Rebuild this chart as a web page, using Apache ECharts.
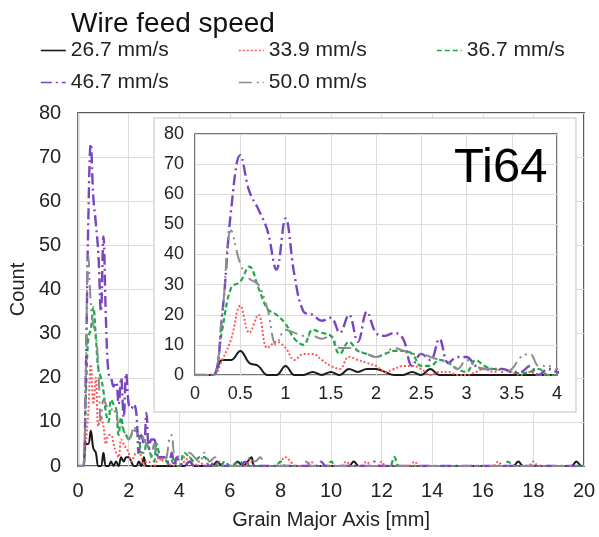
<!DOCTYPE html>
<html>
<head>
<meta charset="utf-8">
<title>Wire feed speed - Ti64</title>
<script src="https://cdn.jsdelivr.net/npm/echarts@6/dist/echarts.min.js"></script>
<style>
	html, body { margin: 0; padding: 0; background: #fff; }
	#chart { width: 599px; height: 537px; }
</style>
</head>
<body>
<div id="chart"></div>
<script>
// grain major axis bins [mm], 0 - 4
var bins = [0.0, 0.1, 0.2, 0.3, 0.4, 0.5, 0.6, 0.7, 0.8, 0.9,
	1.0, 1.1, 1.2, 1.3, 1.4, 1.5, 1.6, 1.7, 1.8, 1.9,
	2.0, 2.1, 2.2, 2.3, 2.4, 2.5, 2.6, 2.7, 2.8, 2.9,
	3.0, 3.1, 3.2, 3.3, 3.4, 3.5, 3.6, 3.7, 3.8, 3.9, 4.0];

var names = ['26.7 mm/s', '33.9 mm/s', '36.7 mm/s', '46.7 mm/s', '50.0 mm/s'];

// counts for each wire feed speed over bins
var count267 = [0, 0, 0, 5, 5, 8, 4, 3, 0, 0,
	3, 0, 0, 1, 0, 1, 0, 2, 1, 2,
	2, 1, 0, 0, 1, 0, 2, 0, 0, 0,
	0, 0, 0, 0, 0, 0, 0, 0, 0, 0, 0];
var count339 = [0, 0, 0, 5, 12, 23, 14, 20, 9, 11,
	9, 5, 7, 7, 5, 3, 2, 6, 5, 4,
	3, 1, 2, 3, 3, 2, 0, 1, 1, 0,
	0, 1, 2, 1, 2, 1, 0, 1, 0, 0, 0];
var count367 = [0, 0, 0, 15, 29, 31, 36, 29, 22, 20,
	17, 12, 10, 15, 14, 13, 7, 11, 8, 7,
	6, 7, 8, 8, 7, 3, 3, 5, 4, 2,
	1, 5, 3, 2, 2, 1, 0.5, 1, 2, 0, 0];
var count467 = [0, 0, 0, 20, 55, 73, 61, 55, 48, 35,
	52, 33, 21, 20, 18, 19, 14, 20, 11, 21,
	14, 13, 14, 12, 3, 7, 5, 12, 4, 6,
	6, 3, 2, 2, 2, 1, 1, 3, 0, 2, 1];
var count500 = [0, 0, 0, 20, 48, 37, 32, 30, 22, 10,
	15, 14, 13, 13, 12, 13, 9, 9, 8, 7,
	6, 7, 9, 8, 7, 7, 6, 5, 4, 2,
	5, 3, 2, 2, 1, 2, 6, 7, 3, 3, 2];

// sparse tails beyond 4 mm, [x, count]
var tail267 = [[4.2, 0], [4.4, 1], [4.6, 0], [5.3, 0], [5.5, 1], [5.7, 0], [6.1, 0], [6.3, 1], [6.5, 0],
	[6.7, 1], [6.85, 2], [7.0, 0], [10.7, 0], [10.9, 1], [11.1, 0], [17.2, 0], [17.4, 1], [17.6, 0],
	[19.5, 0], [19.7, 1], [19.9, 0], [20, 0]];
var tail339 = [[4.2, 1], [4.4, 2], [4.6, 0], [4.8, 1], [5.0, 0], [5.4, 0], [5.6, 1], [5.8, 0], [6.6, 0],
	[6.8, 1], [7.0, 0], [7.8, 0], [8.0, 1], [8.2, 2], [8.4, 1], [8.6, 0], [9.0, 0], [9.2, 1], [9.4, 0],
	[10.4, 0], [10.6, 1], [10.8, 0], [11.2, 0], [11.4, 1], [11.6, 0], [11.85, 0], [12.0, 1], [12.15, 0],
	[13.1, 0], [13.3, 1], [13.5, 0], [16.4, 0], [16.6, 1], [16.8, 0], [17.8, 0], [18.0, 1], [18.2, 0], [20, 0]];
var tail367 = [[4.2, 3], [4.4, 2], [4.6, 1], [4.8, 2], [5.0, 2], [5.2, 0], [5.6, 0], [5.8, 1], [6.0, 0],
	[6.4, 1], [6.6, 0], [7.8, 0], [8.0, 1], [8.2, 0], [9.8, 0], [10.0, 1], [10.2, 0], [12.3, 0],
	[12.5, 2], [12.7, 0], [16.8, 0], [17.0, 1], [17.2, 0], [20, 0]];
var tail467 = [[4.2, 0], [4.4, 1], [4.6, 0], [5.2, 0], [5.4, 1], [5.6, 0], [6.4, 0], [6.6, 1], [6.8, 0],
	[9.4, 0], [9.6, 1], [9.8, 0], [11.5, 0], [11.7, 1], [11.9, 0], [20, 0]];
var tail500 = [[4.2, 2], [4.4, 3], [4.6, 2], [4.8, 1], [5.0, 3], [5.2, 1], [5.4, 2], [5.6, 0], [6.6, 0],
	[6.8, 2], [7.0, 1], [7.2, 2], [7.4, 0], [8.8, 0], [9.0, 1], [9.2, 0], [20, 0]];

var xTicks = [0, 2, 4, 6, 8, 10, 12, 14, 16, 18, 20];
var insetTicks = [0, 0.5, 1, 1.5, 2, 2.5, 3, 3.5, 4];

var colors = ['#1a1a1a', '#ff5a5a', '#1fa84a', '#7a45c0', '#8c8c8c'];
var dashes = ['solid', [2, 2], [5, 3], [11, 4, 2, 4], [13, 5, 2, 4, 2, 5]];
var widths = [2, 2, 2.2, 2.4, 2];

var counts = [count267, count339, count367, count467, count500];
var tails = [tail267, tail339, tail367, tail467, tail500];

function buildData(ys, tail) {
	var out = [];
	for (var i = 0; i < bins.length; i++) {
		out.push([bins[i], ys[i]]);
	}
	return out.concat(tail);
}

var series = [];
names.forEach(function(name, i) {
	var data = buildData(counts[i], tails[i]);
	var style = { color: colors[i], width: widths[i], type: dashes[i] };
	series.push({
		name: name, type: 'line', xAxisIndex: 0, yAxisIndex: 0,
		data: data, smooth: 0.4, symbol: 'none', clip: true, z: 2,
		itemStyle: { color: colors[i] }, lineStyle: style
	});
	series.push({
		name: name, type: 'line', xAxisIndex: 1, yAxisIndex: 1,
		data: data, smooth: 0.4, symbol: 'none', clip: true, z: 12,
		itemStyle: { color: colors[i] }, lineStyle: style
	});
});

var font = 'Liberation Sans, Arial';

var legendPos = [[40, 40], [238, 40], [436, 40], [40, 72], [238, 72]];
var legends = names.map(function(name, i) {
	return {
		data: [name], left: legendPos[i][0], top: legendPos[i][1],
		padding: 0, itemWidth: 25, itemHeight: 20, itemGap: 0, selectedMode: false,
		itemStyle: { opacity: 0 },
		lineStyle: { width: 1.6 },
		textStyle: { fontSize: 21, color: '#222', fontFamily: font }
	};
});

var gridLine = { show: true, lineStyle: { color: '#dcdcdc', width: 1 } };

var option = {
	backgroundColor: '#fff',
	animation: false,
	textStyle: { fontFamily: font },
	title: [
		{ text: 'Wire feed speed', left: 66, top: 5,
			textStyle: { fontSize: 28, fontWeight: 'normal', color: '#111', fontFamily: font } },
		{ text: 'Ti64', left: 449, top: 139, z: 20,
			textStyle: { fontSize: 49, fontWeight: 'normal', color: '#000', fontFamily: font } }
	],
	legend: legends,
	graphic: [{
		type: 'rect', z: 5,
		shape: { x: 154, y: 118, width: 422, height: 294 },
		style: { fill: '#fff', stroke: '#d6d6d6', lineWidth: 1.5 }
	}],
	grid: [
		{ left: 76, right: 15, top: 113, bottom: 71, show: true,
			borderColor: '#5a5a5a', borderWidth: 2, z: 1 },
		{ left: 195, right: 42, top: 134, bottom: 162, show: true,
			borderColor: '#4a4a4a', borderWidth: 1.5, backgroundColor: 'transparent', z: 10 }
	],
	xAxis: [
		{ type: 'value', gridIndex: 0, min: 0, max: 20, interval: 2, z: 1,
			name: 'Grain Major Axis [mm]', nameLocation: 'middle', nameGap: 44,
			nameTextStyle: { fontSize: 20, color: '#222' },
			axisLine: { show: false }, axisTick: { show: false },
			axisLabel: { fontSize: 20, color: '#222', margin: 15,
				formatter: function(v) { return xTicks.indexOf(v) > -1 ? v : ''; } },
			splitLine: gridLine },
		{ type: 'value', gridIndex: 1, min: 0, max: 4, interval: 0.5, z: 11,
			axisLine: { show: false }, axisTick: { show: false },
			axisLabel: { fontSize: 18, color: '#222', margin: 10,
				formatter: function(v) { return insetTicks.indexOf(v) > -1 ? String(v) : ''; } },
			splitLine: gridLine }
	],
	yAxis: [
		{ type: 'value', gridIndex: 0, min: 0, max: 80, interval: 10, z: 1,
			name: 'Count', nameLocation: 'middle', nameGap: 46,
			nameTextStyle: { fontSize: 20, color: '#222' },
			axisLine: { show: false }, axisTick: { show: false },
			axisLabel: { fontSize: 20, color: '#222', margin: 17 },
			splitLine: gridLine },
		{ type: 'value', gridIndex: 1, min: 0, max: 80, interval: 10, z: 11,
			axisLine: { show: false }, axisTick: { show: false },
			axisLabel: { fontSize: 18, color: '#222', margin: 11 },
			splitLine: gridLine }
	],
	series: series
};

var chart = echarts.init(document.getElementById('chart'), null, { renderer: 'canvas' });
chart.setOption(option);
</script>
</body>
</html>
